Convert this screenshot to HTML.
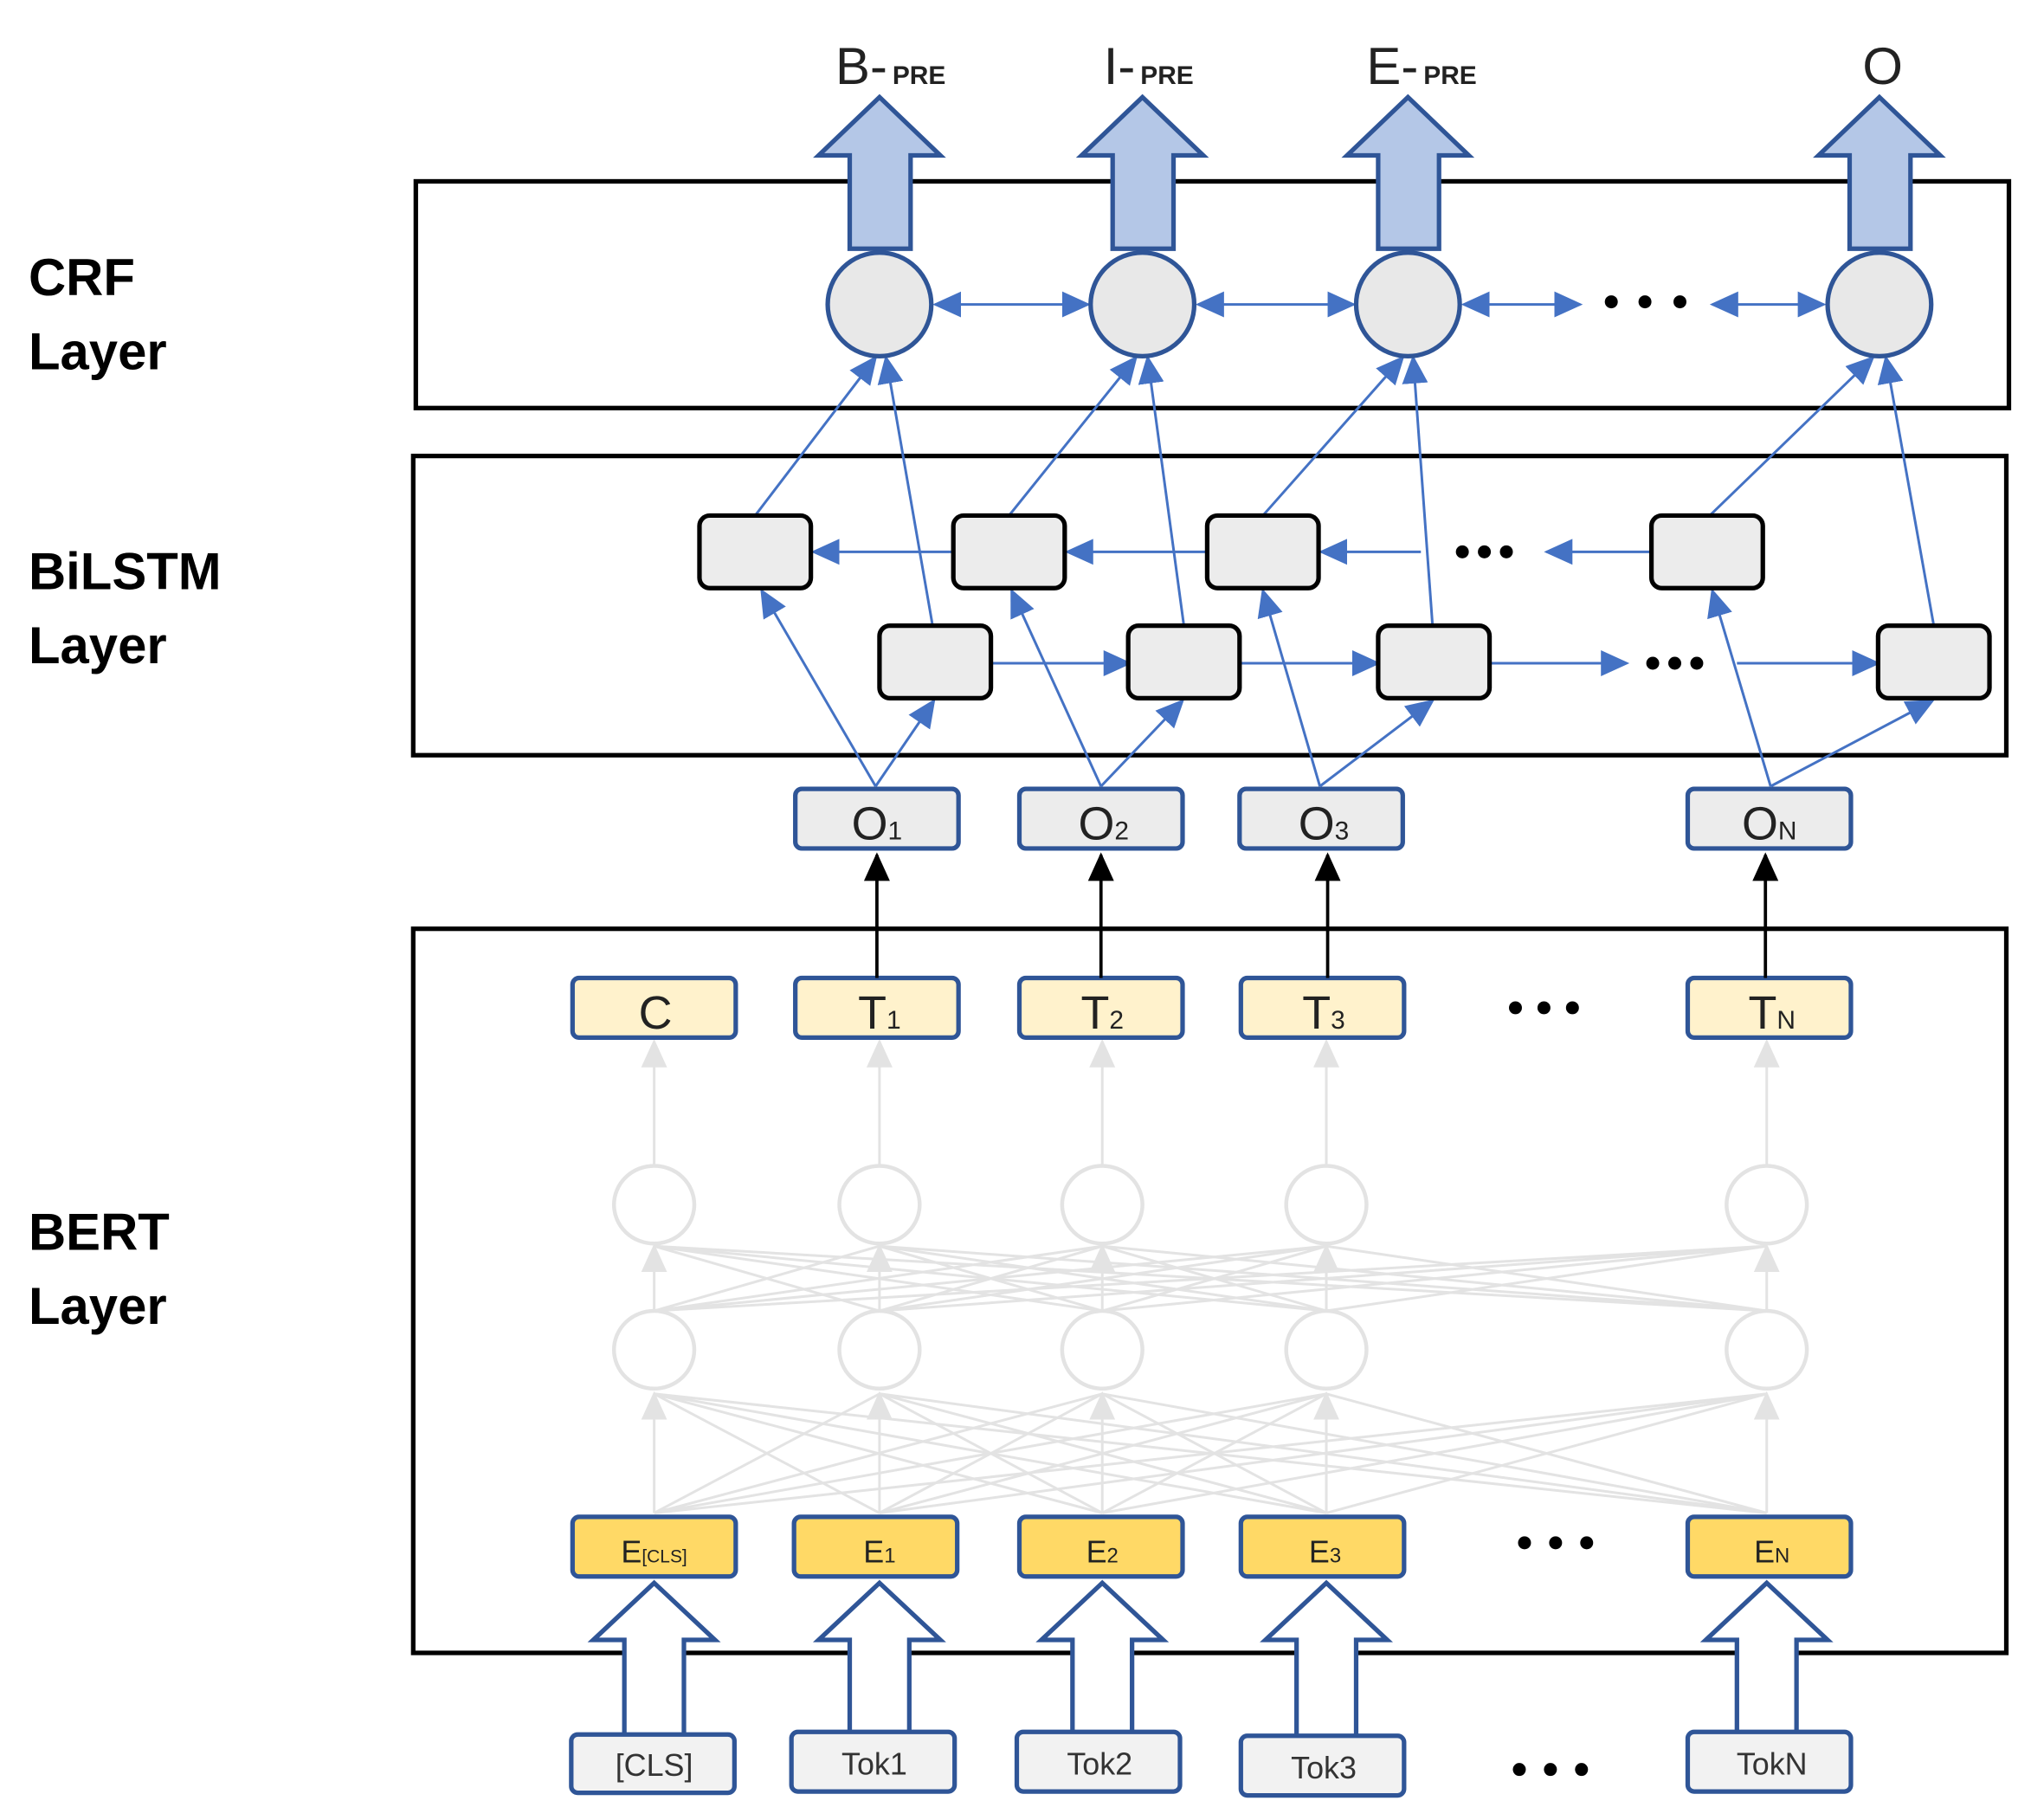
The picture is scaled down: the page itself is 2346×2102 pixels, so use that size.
<!DOCTYPE html>
<html><head><meta charset="utf-8"><style>html,body{margin:0;padding:0;background:#fff}svg{display:block}</style></head><body>
<svg width="2346" height="2102" viewBox="0 0 1568 1405" xmlns="http://www.w3.org/2000/svg" font-family="Liberation Sans, DejaVu Sans, sans-serif">
<defs>
<marker id="abl" markerWidth="24" markerHeight="24" refX="20" refY="12" orient="auto-start-reverse" markerUnits="userSpaceOnUse" viewBox="0 0 24 24"><path d="M0,2 L22,12 L0,22 z" fill="#4472c4"/></marker>
<marker id="ak" markerWidth="24" markerHeight="24" refX="20" refY="12" orient="auto" markerUnits="userSpaceOnUse" viewBox="0 0 24 24"><path d="M0,2 L22,12 L0,22 z" fill="#000"/></marker>
<marker id="ag" markerWidth="24" markerHeight="24" refX="20" refY="12" orient="auto" markerUnits="userSpaceOnUse" viewBox="0 0 24 24"><path d="M0,2 L22,12 L0,22 z" fill="#e3e3e3"/></marker>
</defs>
<rect x="321" y="140" width="1230" height="175" fill="none" stroke="#000" stroke-width="3.5"/>
<rect x="319" y="352" width="1230" height="231" fill="none" stroke="#000" stroke-width="3.5"/>
<rect x="319" y="717" width="1230" height="559" fill="none" stroke="#000" stroke-width="3.5"/>
<g font-weight="bold" font-size="40" fill="#000">
<text x="22" y="228">CRF</text><text x="22" y="285">Layer</text>
<text x="22" y="455">BiLSTM</text><text x="22" y="512">Layer</text>
<text x="22" y="965">BERT</text><text x="22" y="1022">Layer</text>
</g>
<g stroke="#e3e3e3" stroke-width="2" fill="none">
<line x1="505" y1="1168" x2="505" y2="1076" marker-end="url(#ag)"/>
<line x1="679" y1="1168" x2="679" y2="1076" marker-end="url(#ag)"/>
<line x1="851" y1="1168" x2="851" y2="1076" marker-end="url(#ag)"/>
<line x1="1024" y1="1168" x2="1024" y2="1076" marker-end="url(#ag)"/>
<line x1="1364" y1="1168" x2="1364" y2="1076" marker-end="url(#ag)"/>
<path d="M505 1168L679 1076M505 1168L851 1076M505 1168L1024 1076M505 1168L1364 1076M679 1168L505 1076M679 1168L851 1076M679 1168L1024 1076M679 1168L1364 1076M851 1168L505 1076M851 1168L679 1076M851 1168L1024 1076M851 1168L1364 1076M1024 1168L505 1076M1024 1168L679 1076M1024 1168L851 1076M1024 1168L1364 1076M1364 1168L505 1076M1364 1168L679 1076M1364 1168L851 1076M1364 1168L1024 1076"/>
<line x1="505" y1="1012" x2="505" y2="962" marker-end="url(#ag)"/>
<line x1="679" y1="1012" x2="679" y2="962" marker-end="url(#ag)"/>
<line x1="851" y1="1012" x2="851" y2="962" marker-end="url(#ag)"/>
<line x1="1024" y1="1012" x2="1024" y2="962" marker-end="url(#ag)"/>
<line x1="1364" y1="1012" x2="1364" y2="962" marker-end="url(#ag)"/>
<path d="M505 1012L679 962M505 1012L851 962M505 1012L1024 962M505 1012L1364 962M679 1012L505 962M679 1012L851 962M679 1012L1024 962M679 1012L1364 962M851 1012L505 962M851 1012L679 962M851 1012L1024 962M851 1012L1364 962M1024 1012L505 962M1024 1012L679 962M1024 1012L851 962M1024 1012L1364 962M1364 1012L505 962M1364 1012L679 962M1364 1012L851 962M1364 1012L1024 962"/>
<line x1="505" y1="900" x2="505" y2="804" marker-end="url(#ag)"/>
<line x1="679" y1="900" x2="679" y2="804" marker-end="url(#ag)"/>
<line x1="851" y1="900" x2="851" y2="804" marker-end="url(#ag)"/>
<line x1="1024" y1="900" x2="1024" y2="804" marker-end="url(#ag)"/>
<line x1="1364" y1="900" x2="1364" y2="804" marker-end="url(#ag)"/>
</g>
<g fill="#fff" stroke="#e3e3e3" stroke-width="3">
<ellipse cx="505" cy="930" rx="31" ry="30"/><ellipse cx="679" cy="930" rx="31" ry="30"/><ellipse cx="851" cy="930" rx="31" ry="30"/><ellipse cx="1024" cy="930" rx="31" ry="30"/><ellipse cx="1364" cy="930" rx="31" ry="30"/>
<ellipse cx="505" cy="1042" rx="31" ry="30"/><ellipse cx="679" cy="1042" rx="31" ry="30"/><ellipse cx="851" cy="1042" rx="31" ry="30"/><ellipse cx="1024" cy="1042" rx="31" ry="30"/><ellipse cx="1364" cy="1042" rx="31" ry="30"/>
</g>
<g fill="#fff" stroke="#2f5597" stroke-width="3.5">
<path d="M482 1340 V1266 H458 L505 1222 L552 1266 H528 V1340"/>
<path d="M656 1338 V1266 H632 L679 1222 L726 1266 H702 V1338"/>
<path d="M828 1338 V1266 H804 L851 1222 L898 1266 H874 V1338"/>
<path d="M1001 1340 V1266 H977 L1024 1222 L1071 1266 H1047 V1340"/>
<path d="M1341 1338 V1266 H1317 L1364 1222 L1411 1266 H1387 V1338"/>
</g>
<g fill="#f2f2f2" stroke="#2f5597" stroke-width="3.5">
<rect x="441" y="1339" width="126" height="45" rx="5"/>
<rect x="611" y="1337" width="126" height="46" rx="5"/>
<rect x="785" y="1337" width="126" height="46" rx="5"/>
<rect x="958" y="1340" width="126" height="46" rx="5"/>
<rect x="1303" y="1337" width="126" height="46" rx="5"/>
</g>
<g font-size="24" fill="#333" text-anchor="middle">
<text x="505" y="1371">[CLS]</text><text x="675" y="1370">Tok1</text><text x="849" y="1370">Tok2</text><text x="1022" y="1373">Tok3</text><text x="1368" y="1370">TokN</text>
</g>
<g fill="#ffd966" stroke="#2f5597" stroke-width="3.5">
<rect x="442" y="1171" width="126" height="46" rx="5"/>
<rect x="613" y="1171" width="126" height="46" rx="5"/>
<rect x="787" y="1171" width="126" height="46" rx="5"/>
<rect x="958" y="1171" width="126" height="46" rx="5"/>
<rect x="1303" y="1171" width="126" height="46" rx="5"/>
</g>
<g font-size="24" fill="#222" text-anchor="middle">
<text x="505" y="1206">E<tspan font-size="14">[CLS]</tspan></text>
<text x="679" y="1206">E<tspan font-size="16">1</tspan></text>
<text x="851" y="1206">E<tspan font-size="16">2</tspan></text>
<text x="1023" y="1206">E<tspan font-size="16">3</tspan></text>
<text x="1368" y="1206">E<tspan font-size="16">N</tspan></text>
</g>
<g fill="#fff2cc" stroke="#2f5597" stroke-width="3.5">
<rect x="442" y="755" width="126" height="46" rx="5"/>
<rect x="614" y="755" width="126" height="46" rx="5"/>
<rect x="787" y="755" width="126" height="46" rx="5"/>
<rect x="958" y="755" width="126" height="46" rx="5"/>
<rect x="1303" y="755" width="126" height="46" rx="5"/>
</g>
<g font-size="36" fill="#222" text-anchor="middle">
<text x="506" y="794">C</text>
<text x="679" y="794">T<tspan font-size="20">1</tspan></text>
<text x="851" y="794">T<tspan font-size="20">2</tspan></text>
<text x="1022" y="794">T<tspan font-size="20">3</tspan></text>
<text x="1368" y="794">T<tspan font-size="20">N</tspan></text>
</g>
<g stroke="#000" stroke-width="2.5">
<line x1="677" y1="755" x2="677" y2="660" marker-end="url(#ak)"/>
<line x1="850" y1="755" x2="850" y2="660" marker-end="url(#ak)"/>
<line x1="1025" y1="755" x2="1025" y2="660" marker-end="url(#ak)"/>
<line x1="1363" y1="755" x2="1363" y2="660" marker-end="url(#ak)"/>
</g>
<g fill="#ececec" stroke="#2f5597" stroke-width="3.5">
<rect x="614" y="609" width="126" height="46" rx="5"/>
<rect x="787" y="609" width="126" height="46" rx="5"/>
<rect x="957" y="609" width="126" height="46" rx="5"/>
<rect x="1303" y="609" width="126" height="46" rx="5"/>
</g>
<g font-size="36" fill="#222" text-anchor="middle">
<text x="677" y="648">O<tspan font-size="20">1</tspan></text>
<text x="852" y="648">O<tspan font-size="20">2</tspan></text>
<text x="1022" y="648">O<tspan font-size="20">3</tspan></text>
<text x="1366" y="648">O<tspan font-size="20">N</tspan></text>
</g>
<g fill="#000">
<circle cx="1170" cy="778" r="5"/><circle cx="1192" cy="778" r="5"/><circle cx="1214" cy="778" r="5"/>
<circle cx="1177" cy="1191" r="5"/><circle cx="1201" cy="1191" r="5"/><circle cx="1225" cy="1191" r="5"/>
<circle cx="1173" cy="1366" r="5"/><circle cx="1197" cy="1366" r="5"/><circle cx="1221" cy="1366" r="5"/>
<circle cx="1129" cy="426" r="5"/><circle cx="1146" cy="426" r="5"/><circle cx="1163" cy="426" r="5"/>
<circle cx="1276" cy="512" r="5"/><circle cx="1293" cy="512" r="5"/><circle cx="1310" cy="512" r="5"/>
<circle cx="1244" cy="233" r="5"/><circle cx="1270" cy="233" r="5"/><circle cx="1297" cy="233" r="5"/>
</g>
<g stroke="#4472c4" stroke-width="2" fill="none">
<line x1="676" y1="607" x2="588" y2="456" marker-end="url(#abl)"/>
<line x1="676" y1="607" x2="721" y2="541" marker-end="url(#abl)"/>
<line x1="850" y1="607" x2="781" y2="456" marker-end="url(#abl)"/>
<line x1="850" y1="607" x2="913" y2="541" marker-end="url(#abl)"/>
<line x1="1019" y1="607" x2="975" y2="456" marker-end="url(#abl)"/>
<line x1="1019" y1="607" x2="1106" y2="541" marker-end="url(#abl)"/>
<line x1="1367" y1="607" x2="1322" y2="456" marker-end="url(#abl)"/>
<line x1="1367" y1="607" x2="1492" y2="541" marker-end="url(#abl)"/>
<line x1="738" y1="426" x2="628" y2="426" marker-end="url(#abl)"/>
<line x1="934" y1="426" x2="824" y2="426" marker-end="url(#abl)"/>
<line x1="1097" y1="426" x2="1020" y2="426" marker-end="url(#abl)"/>
<line x1="1276" y1="426" x2="1194" y2="426" marker-end="url(#abl)"/>
<line x1="766" y1="512" x2="872" y2="512" marker-end="url(#abl)"/>
<line x1="958" y1="512" x2="1064" y2="512" marker-end="url(#abl)"/>
<line x1="1151" y1="512" x2="1256" y2="512" marker-end="url(#abl)"/>
<line x1="1341" y1="512" x2="1450" y2="512" marker-end="url(#abl)"/>
<line x1="583" y1="398" x2="676" y2="276" marker-end="url(#abl)"/>
<line x1="720" y1="483" x2="684" y2="276" marker-end="url(#abl)"/>
<line x1="779" y1="398" x2="877" y2="276" marker-end="url(#abl)"/>
<line x1="914" y1="483" x2="886" y2="276" marker-end="url(#abl)"/>
<line x1="975" y1="398" x2="1083" y2="276" marker-end="url(#abl)"/>
<line x1="1106" y1="483" x2="1091" y2="276" marker-end="url(#abl)"/>
<line x1="1320" y1="398" x2="1446" y2="276" marker-end="url(#abl)"/>
<line x1="1493" y1="483" x2="1456" y2="276" marker-end="url(#abl)"/>
<line x1="722" y1="235" x2="840" y2="235" marker-start="url(#abl)" marker-end="url(#abl)"/>
<line x1="925" y1="235" x2="1045" y2="235" marker-start="url(#abl)" marker-end="url(#abl)"/>
<line x1="1130" y1="235" x2="1220" y2="235" marker-start="url(#abl)" marker-end="url(#abl)"/>
<line x1="1322" y1="235" x2="1408" y2="235" marker-start="url(#abl)" marker-end="url(#abl)"/>
</g>
<g fill="#ececec" stroke="#000" stroke-width="3.5">
<rect x="540" y="398" width="86" height="56" rx="8"/>
<rect x="736" y="398" width="86" height="56" rx="8"/>
<rect x="932" y="398" width="86" height="56" rx="8"/>
<rect x="1275" y="398" width="86" height="56" rx="8"/>
<rect x="679" y="483" width="86" height="56" rx="8"/>
<rect x="871" y="483" width="86" height="56" rx="8"/>
<rect x="1064" y="483" width="86" height="56" rx="8"/>
<rect x="1450" y="483" width="86" height="56" rx="8"/>
</g>
<g fill="#b4c7e7" stroke="#2f5597" stroke-width="3.5">
<path d="M656 192 V120 H632 L679 75 L726 120 H703 V192 Z"/>
<path d="M859 192 V120 H835 L882 75 L929 120 H906 V192 Z"/>
<path d="M1064 192 V120 H1040 L1087 75 L1134 120 H1111 V192 Z"/>
<path d="M1428 192 V120 H1404 L1451 75 L1498 120 H1475 V192 Z"/>
</g>
<g fill="#e8e8e8" stroke="#2f5597" stroke-width="3.5">
<circle cx="679" cy="235" r="40"/><circle cx="882" cy="235" r="40"/><circle cx="1087" cy="235" r="40"/><circle cx="1451" cy="235" r="40"/>
</g>
<g font-size="40" fill="#222">
<text x="645" y="65">B-<tspan font-size="20" font-weight="bold" dx="4">PRE</tspan></text>
<text x="852" y="65">I-<tspan font-size="20" font-weight="bold" dx="4">PRE</tspan></text>
<text x="1055" y="65">E-<tspan font-size="20" font-weight="bold" dx="4">PRE</tspan></text>
<text x="1438" y="65">O</text>
</g>
</svg>
</body></html>
